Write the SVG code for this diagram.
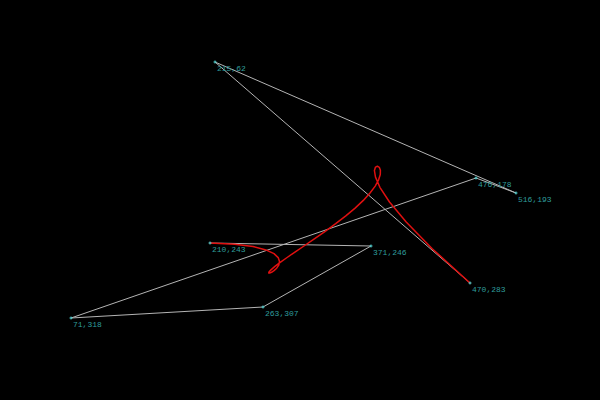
<svg xmlns="http://www.w3.org/2000/svg" width="600" height="400" viewBox="0 0 600 400">
<style>
.poly{fill:none;stroke:#b4b4b4;stroke-width:1}
.curve{fill:none;stroke:#e01010;stroke-width:1.5;stroke-linejoin:round;stroke-linecap:round}
.mk{stroke:#4fd0d0;stroke-width:1}
.lbl{font-family:"Liberation Mono","DejaVu Sans Mono",monospace;font-size:8px;fill:#2f9c9c}
</style>
<rect width="600" height="400" fill="#000"/>
<g id="connectors">
<polyline class="poly" points="210,243 371,246 263,307 71,318 476,178 516,193 215,62 470,283"/>
<polyline class="curve" points="210,243 234.8,244.2 253.1,246.6 265.9,249.9 274.0,253.6 278.2,257.6 279.5,261.5 278.8,265.1 276.7,268.2 274.0,270.6 271.5,272.3 269.6,273.1 268.7,272.9 269.1,271.7 271.2,269.6 274.9,266.4 280.2,262.4 287.1,257.5 295.3,251.8 304.7,245.5 314.7,238.6 325.2,231.3 335.7,223.7 345.8,215.9 355.1,208.1 363.3,200.4 370.0,193.0 375.2,186.1 378.6,179.8 380.3,174.5 380.4,170.2 379.3,167.3 377.4,166.2 375.5,167.1 374.4,170.5 375.5,177.1 379.9,187.3 389.5,202.0 406.2,222.1 432.2,248.7 470,283"/>
</g>
<g id="p0"><path class="mk" d="M208.5,243h3M210,241.5v3"/><text class="lbl" x="212" y="252">210,243</text></g>
<g id="p1"><path class="mk" d="M369.5,246h3M371,244.5v3"/><text class="lbl" x="373" y="255">371,246</text></g>
<g id="p2"><path class="mk" d="M261.5,307h3M263,305.5v3"/><text class="lbl" x="265" y="316">263,307</text></g>
<g id="p3"><path class="mk" d="M69.5,318h3M71,316.5v3"/><text class="lbl" x="73" y="327">71,318</text></g>
<g id="p4"><path class="mk" d="M474.5,178h3M476,176.5v3"/><text class="lbl" x="478" y="187">476,178</text></g>
<g id="p5"><path class="mk" d="M514.5,193h3M516,191.5v3"/><text class="lbl" x="518" y="202">516,193</text></g>
<g id="p6"><path class="mk" d="M213.5,62h3M215,60.5v3"/><text class="lbl" x="217" y="71">215,62</text></g>
<g id="p7"><path class="mk" d="M468.5,283h3M470,281.5v3"/><text class="lbl" x="472" y="292">470,283</text></g>
</svg>
